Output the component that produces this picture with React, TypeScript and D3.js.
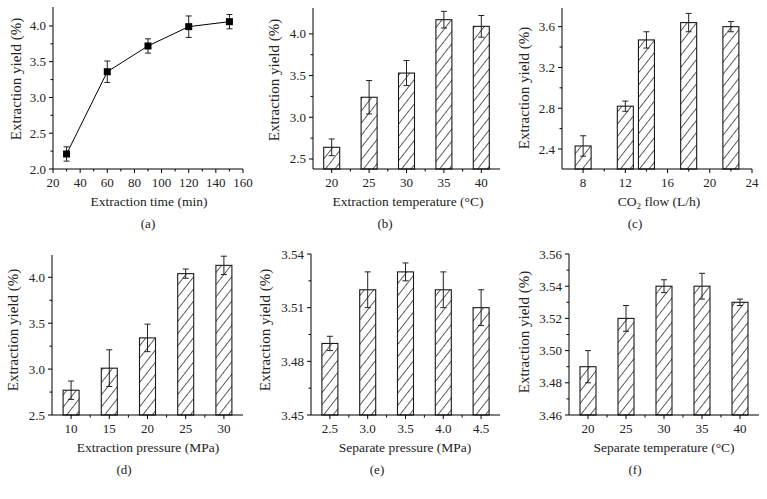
import React from 'react';
import * as d3 from 'd3';

// ---------- data ----------
const timeMin = [30, 60, 90, 120, 150];
const timeYield = [2.21, 3.36, 3.72, 3.99, 4.06];
const timeErr = [0.1, 0.15, 0.1, 0.15, 0.1];

const extTemp = [20, 25, 30, 35, 40];
const extTempYield = [2.64, 3.24, 3.53, 4.17, 4.09];
const extTempErr = [0.1, 0.2, 0.15, 0.1, 0.13];

const co2Flow = [8, 12, 14, 18, 22];
const co2Yield = [2.43, 2.82, 3.47, 3.64, 3.6];
const co2Err = [0.1, 0.05, 0.08, 0.09, 0.05];

const extPressure = [10, 15, 20, 25, 30];
const extPressureYield = [2.77, 3.01, 3.34, 4.04, 4.13];
const extPressureErr = [0.1, 0.2, 0.15, 0.05, 0.1];

const sepPressure = [2.5, 3.0, 3.5, 4.0, 4.5];
const sepPressureYield = [3.49, 3.52, 3.53, 3.52, 3.51];
const sepPressureErr = [0.004, 0.01, 0.005, 0.01, 0.01];

const sepTemp = [20, 25, 30, 35, 40];
const sepTempYield = [3.49, 3.52, 3.54, 3.54, 3.53];
const sepTempErr = [0.01, 0.008, 0.004, 0.008, 0.002];

// tick labels
const xTicksA = [20, 40, 60, 80, 100, 120, 140, 160];
const yTicksA = [2.0, 2.5, 3.0, 3.5, 4.0];
const xTicksB = [20, 25, 30, 35, 40];
const yTicksB = [2.5, 3.0, 3.5, 4.0];
const xTicksC = [8, 12, 16, 20, 24];
const yTicksC = [2.4, 2.8, 3.2, 3.6];
const xTicksD = [10, 15, 20, 25, 30];
const yTicksD = [2.5, 3.0, 3.5, 4.0];
const xTicksE = [2.5, 3.0, 3.5, 4.0, 4.5];
const yTicksE = [3.45, 3.48, 3.51, 3.54];
const xTicksF = [20, 25, 30, 35, 40];
const yTicksF = [3.46, 3.48, 3.5, 3.52, 3.54, 3.56];

const FONT = '"Liberation Serif", "Times New Roman", serif';

type PanelCfg = {
  id: string;
  kind: 'line' | 'bar';
  x: number[];
  y: number[];
  err: number[];
  left: number; right: number; top: number; bottom: number;
  xDomain: [number, number];
  yDomain: [number, number];
  xTicks: number[]; yTicks: number[];
  xFmt: string; yFmt: string;
  xTitle: React.ReactNode;
  xTitleX: number;
  yTitleX: number; yTitleY: number;
  label: string; labelX: number;
};

const panels: PanelCfg[] = [
  {
    id: 'a', kind: 'line', x: timeMin, y: timeYield, err: timeErr,
    left: 53, right: 243, top: 7, bottom: 169,
    xDomain: [20, 160], yDomain: [2.0, 4.265],
    xTicks: xTicksA, yTicks: yTicksA, xFmt: 'd', yFmt: '.1f',
    xTitle: 'Extraction time (min)', xTitleX: 149,
    yTitleX: 18, yTitleY: 79, label: '(a)', labelX: 148,
  },
  {
    id: 'b', kind: 'bar', x: extTemp, y: extTempYield, err: extTempErr,
    left: 313, right: 500, top: 8, bottom: 169,
    xDomain: [17.5, 42.5], yDomain: [2.38, 4.31],
    xTicks: xTicksB, yTicks: yTicksB, xFmt: 'd', yFmt: '.1f',
    xTitle: 'Extraction temperature (°C)', xTitleX: 408,
    yTitleX: 276, yTitleY: 80, label: '(b)', labelX: 385,
  },
  {
    id: 'c', kind: 'bar', x: co2Flow, y: co2Yield, err: co2Err,
    left: 562, right: 752, top: 8, bottom: 169,
    xDomain: [6, 24], yDomain: [2.204, 3.783],
    xTicks: xTicksC, yTicks: yTicksC, xFmt: 'd', yFmt: '.1f',
    xTitle: (
      <>
        CO<tspan fontSize={9} dy={3}>2</tspan>
        <tspan dy={-3}> flow (L/h)</tspan>
      </>
    ),
    xTitleX: 659,
    yTitleX: 526, yTitleY: 88, label: '(c)', labelX: 635,
  },
  {
    id: 'd', kind: 'bar', x: extPressure, y: extPressureYield, err: extPressureErr,
    left: 52, right: 243, top: 255, bottom: 415,
    xDomain: [7.5, 32.5], yDomain: [2.5, 4.243],
    xTicks: xTicksD, yTicks: yTicksD, xFmt: 'd', yFmt: '.1f',
    xTitle: 'Extraction pressure (MPa)', xTitleX: 148,
    yTitleX: 15, yTitleY: 330, label: '(d)', labelX: 124,
  },
  {
    id: 'e', kind: 'bar', x: sepPressure, y: sepPressureYield, err: sepPressureErr,
    left: 311, right: 500, top: 254, bottom: 415,
    xDomain: [2.25, 4.75], yDomain: [3.45, 3.54],
    xTicks: xTicksE, yTicks: yTicksE, xFmt: '.1f', yFmt: '.2f',
    xTitle: 'Separate pressure (MPa)', xTitleX: 405,
    yTitleX: 267, yTitleY: 330, label: '(e)', labelX: 377,
  },
  {
    id: 'f', kind: 'bar', x: sepTemp, y: sepTempYield, err: sepTempErr,
    left: 569, right: 759, top: 254, bottom: 415,
    xDomain: [17.5, 42.5], yDomain: [3.46, 3.56],
    xTicks: xTicksF, yTicks: yTicksF, xFmt: 'd', yFmt: '.2f',
    xTitle: 'Separate temperature (°C)', xTitleX: 664,
    yTitleX: 526, yTitleY: 332, label: '(f)', labelX: 635,
  },
];

function midpoints(t: number[]): number[] {
  const out: number[] = [];
  for (let i = 0; i < t.length - 1; i++) out.push((t[i] + t[i + 1]) / 2);
  return out;
}

function Panel({ p }: { p: PanelCfg }) {
  const xs = d3.scaleLinear().domain(p.xDomain).range([p.left, p.right]);
  const ys = d3.scaleLinear().domain(p.yDomain).range([p.bottom, p.top]);
  const xf = d3.format(p.xFmt);
  const yf = d3.format(p.yFmt);
  const xMinor = midpoints(p.xTicks);
  const yMinor = midpoints(p.yTicks);
  const barW = 16;
  const cap = 3;
  const stroke = '#1a1a1a';
  const line = d3
    .line<number>()
    .x((_, i) => xs(p.x[i]))
    .y((v) => ys(v));

  return (
    <g>
      {p.kind === 'bar' &&
        p.y.map((v, i) => (
          <rect
            key={'b' + i}
            x={xs(p.x[i]) - barW / 2}
            y={ys(v)}
            width={barW}
            height={ys(p.yDomain[0]) - ys(v)}
            fill="url(#hatch)"
            stroke={stroke}
            strokeWidth={1.1}
          />
        ))}
      {p.kind === 'line' && (
        <path d={line(p.y) || ''} fill="none" stroke="#000" strokeWidth={1} />
      )}
      {p.y.map((v, i) => {
        const cx = xs(p.x[i]);
        const y1 = ys(v + p.err[i]);
        const y2 = ys(v - p.err[i]);
        return (
          <g key={'e' + i} stroke="#222" strokeWidth={1}>
            <line x1={cx} x2={cx} y1={y1} y2={y2} />
            <line x1={cx - cap} x2={cx + cap} y1={y1} y2={y1} />
            <line x1={cx - cap} x2={cx + cap} y1={y2} y2={y2} />
          </g>
        );
      })}
      {p.kind === 'line' &&
        p.y.map((v, i) => (
          <rect
            key={'m' + i}
            x={xs(p.x[i]) - 3.5}
            y={ys(v) - 3.5}
            width={7}
            height={7}
            fill="#000"
          />
        ))}
      <g stroke="#000" strokeWidth={1}>
        <line x1={p.left} x2={p.left} y1={p.top} y2={p.bottom} />
        <line x1={p.left} x2={p.right} y1={p.bottom} y2={p.bottom} />
        {p.xTicks.map((t) => (
          <line key={'xt' + t} x1={xs(t)} x2={xs(t)} y1={p.bottom} y2={p.bottom + 4} />
        ))}
        {xMinor.map((t) => (
          <line key={'xm' + t} x1={xs(t)} x2={xs(t)} y1={p.bottom} y2={p.bottom + 2.5} />
        ))}
        {p.yTicks.map((t) => (
          <line key={'yt' + t} x1={p.left - 4} x2={p.left} y1={ys(t)} y2={ys(t)} />
        ))}
        {yMinor.map((t) => (
          <line key={'ym' + t} x1={p.left - 2.5} x2={p.left} y1={ys(t)} y2={ys(t)} />
        ))}
      </g>
      <g fontFamily={FONT} fontSize={13} fill="#222">
        {p.xTicks.map((t) => (
          <text key={'xl' + t} x={xs(t)} y={p.bottom + 18} textAnchor="middle">
            {xf(t)}
          </text>
        ))}
        {p.yTicks.map((t) => (
          <text key={'yl' + t} x={p.left - 7} y={ys(t) + 4.5} textAnchor="end">
            {yf(t)}
          </text>
        ))}
      </g>
      <text
        x={p.xTitleX}
        y={p.bottom + 37}
        textAnchor="middle"
        fontFamily={FONT}
        fontSize={13.5}
        fill="#222"
      >
        {p.xTitle}
      </text>
      <text
        transform={`translate(${p.yTitleX},${p.yTitleY}) rotate(-90)`}
        textAnchor="middle"
        dominantBaseline="middle"
        fontFamily={FONT}
        fontSize={15}
        fill="#222"
      >
        Extraction yield (%)
      </text>
      <text
        x={p.labelX}
        y={p.bottom + 59}
        textAnchor="middle"
        fontFamily={FONT}
        fontSize={13}
        fill="#222"
      >
        {p.label}
      </text>
    </g>
  );
}

export default function App() {
  return (
    <svg
      width={767}
      height={499}
      style={{ position: 'absolute', left: 0, top: 0, background: '#fff' }}
    >
      <defs>
        <pattern
          id="hatch"
          patternUnits="userSpaceOnUse"
          width={7.5}
          height={10}
          patternTransform="rotate(38)"
        >
          <rect width={7.5} height={10} fill="#fff" />
          <line x1={0} y1={0} x2={0} y2={10} stroke="#2a2a2a" strokeWidth={1.5} />
        </pattern>
      </defs>
      <rect width={767} height={499} fill="#fff" />
      {panels.map((p) => (
        <Panel key={p.id} p={p} />
      ))}
    </svg>
  );
}
